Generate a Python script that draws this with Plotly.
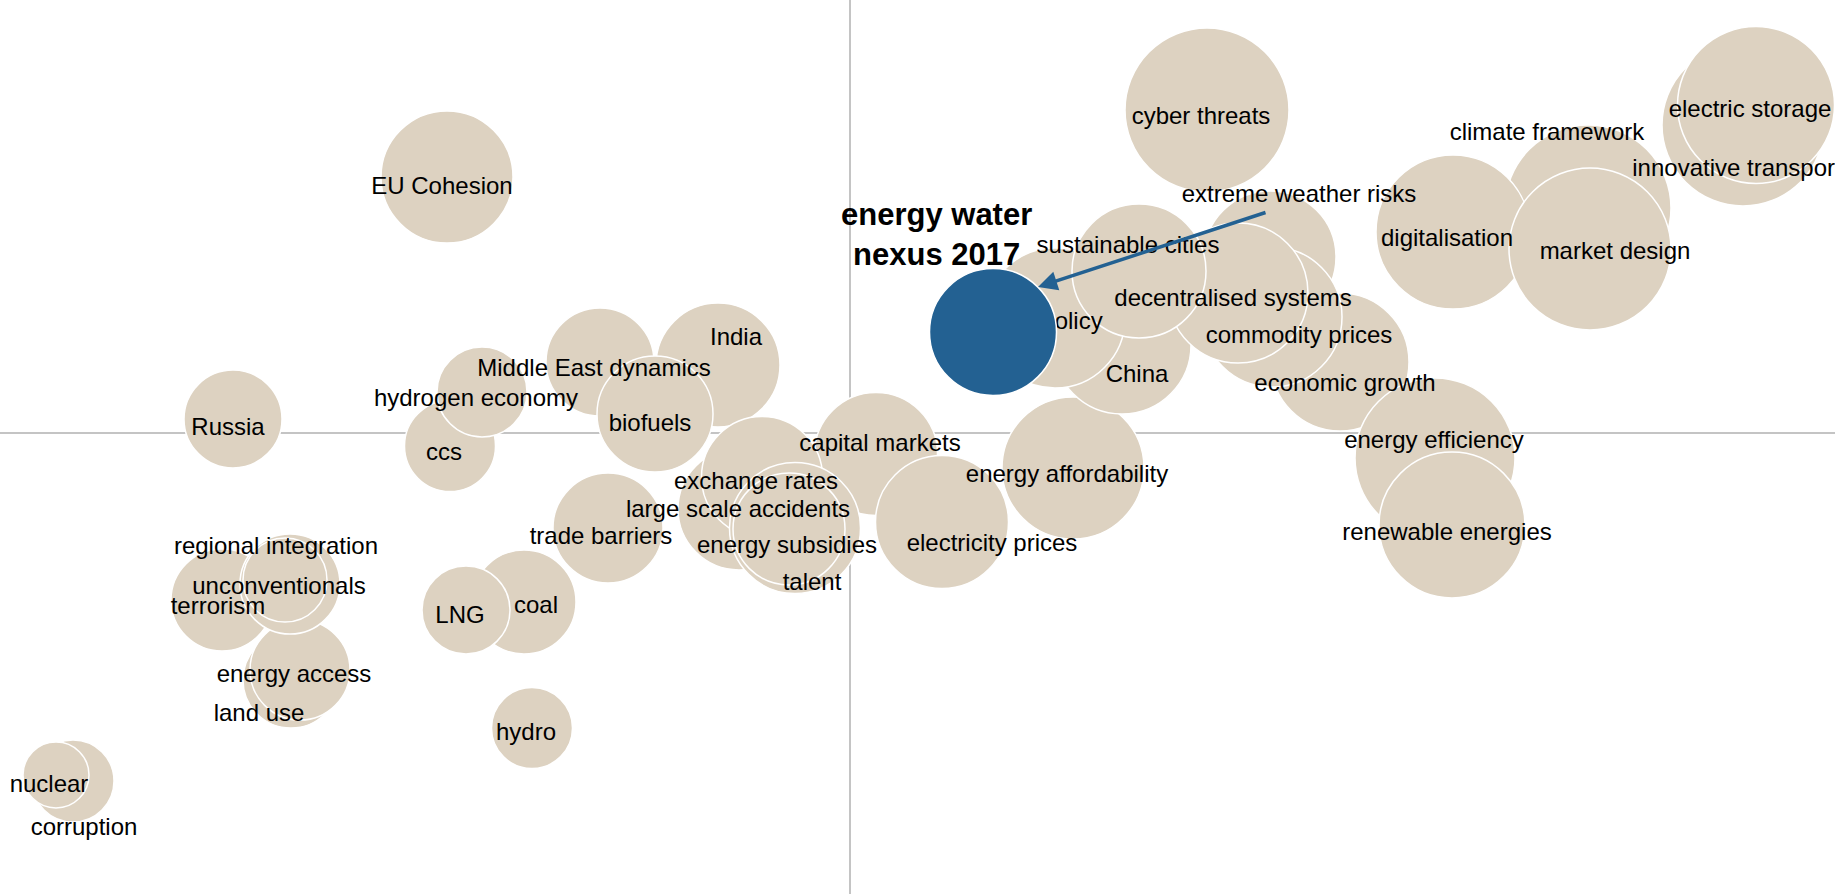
import plotly.graph_objects as go

# issue map: x = impact, y = uncertainty, size = urgency (drawn back to front)
issues = ['corruption', 'nuclear', 'land use', 'energy access', 'terrorism', 'regional integration',
          'unconventionals', 'Russia', 'EU Cohesion', 'ccs', 'hydrogen economy', 'Middle East dynamics',
          'India', 'biofuels', 'trade barriers', 'coal', 'LNG', 'hydro', 'capital markets',
          'large scale accidents', 'exchange rates', 'energy subsidies', 'talent', 'energy affordability',
          'electricity prices', 'China', 'policy', 'extreme weather risks', 'economic growth',
          'commodity prices', 'decentralised systems', 'sustainable cities', 'energy efficiency',
          'renewable energies', 'cyber threats', 'climate framework', 'digitalisation', 'market design',
          'innovative transport', 'electric storage']
impact = [-7.77, -7.94, -5.59, -5.50, -6.28, -5.60,
          -5.65, -6.17, -4.03, -4.00, -3.68, -2.50,
          -1.32, -1.95, -2.42, -3.26, -3.84, -3.18, 0.26,
          -1.11, -0.88, -0.55, -0.61, 2.23,
          0.92, 2.72, 2.05, 4.20, 4.90,
          4.22, 3.88, 2.89, 5.85,
          6.02, 3.57, 7.38, 6.03, 7.40,
          8.93, 9.06]
uncertainty = [-3.48, -3.42, -2.47, -2.37, -1.67, -1.51,
               -1.47, 0.14, 2.56, -0.13, 0.41, 0.71,
               0.68, 0.19, -0.95, -1.69, -1.77, -2.95, -0.21,
               -0.76, -0.44, -0.95, -0.96, -0.35,
               -0.89, 0.88, 1.15, 1.76, 0.71,
               1.16, 1.40, 1.62, -0.25,
               -0.92, 3.23, 2.25, 2.01, 1.84,
               3.08, 3.28]
urgency = [8.2, 6.6, 9.6, 10.0, 10.2, 10.0,
           8.4, 9.8, 13.2, 9.1, 9.0, 10.8,
           12.4, 11.6, 11.0, 10.4, 8.8, 8.1, 12.3,
           12.2, 12.1, 13.1, 11.2, 14.2,
           13.3, 13.8, 14.0, 13.2, 13.8,
           14.0, 14.0, 13.4, 16.0,
           14.6, 16.4, 16.6, 15.4, 16.2,
           16.2, 15.7]
# where each issue's label sits
label_x = [-7.66, -8.01, -5.91, -5.56, -6.32, -5.74,
           -5.71, -6.22, -4.08, -4.06, -3.74, -2.56,
           -1.14, -2.00, -2.49, -3.14, -3.90, -3.24, 0.30,
           -1.12, -0.94, -0.63, -0.38, 2.17,
           1.42, 2.87, 2.22, 4.49, 4.95,
           4.49, 3.83, 2.78, 5.84,
           5.97, 3.51, 6.97, 5.97, 7.65,
           8.87, 9.00]
label_y = [-3.96, -3.53, -2.82, -2.43, -1.75, -1.15,
           -1.55, 0.04, 2.45, -0.21, 0.33, 0.63,
           0.94, 0.08, -1.05, -1.74, -1.84, -3.01, -0.12,
           -0.78, -0.50, -1.14, -1.51, -0.43,
           -1.12, 0.57, 1.10, 2.37, 0.48,
           0.96, 1.33, 1.86, -0.09,
           -1.01, 3.15, 2.99, 1.93, 1.80,
           2.63, 3.22]

focus_name = 'energy water<br>nexus 2017'
focus_x = [1.43]
focus_y = [1.01]
focus_size = [12.7]

beige = '#ddd2c1'
blue = '#236192'
font = 'Liberation Sans, Arial, sans-serif'

fig = go.Figure()

fig.add_trace(go.Scatter(
    x=impact, y=uncertainty, mode='markers',
    marker=dict(size=urgency, sizemode='diameter', sizeref=0.1, color=beige,
                opacity=1, line=dict(color='white', width=1.5)),
    hoverinfo='text', hovertext=issues, showlegend=False,
))
fig.add_trace(go.Scatter(
    x=label_x, y=label_y, mode='text', text=issues, textposition='middle center',
    textfont=dict(family=font, size=24, color='black'),
    hoverinfo='skip', showlegend=False,
))
fig.add_trace(go.Scatter(
    x=focus_x, y=focus_y, mode='markers',
    marker=dict(size=focus_size, sizemode='diameter', sizeref=0.1, color=blue,
                opacity=1, line=dict(color='white', width=1.5)),
    hoverinfo='skip', showlegend=False,
))

# bold label and arrow for the focus issue
fig.add_annotation(x=0.86, y=1.99, text='<b>' + focus_name + '</b>', showarrow=False,
                   font=dict(family=font, size=31, color='black'))
fig.add_annotation(x=1.88, y=1.46, ax=4.17, ay=2.21, axref='x', ayref='y', text='',
                   showarrow=True, arrowhead=2, arrowsize=1.1, arrowwidth=3.5, arrowcolor=blue)

fig.update_xaxes(range=[-8.5, 9.85], showgrid=False, showticklabels=False, ticks='',
                 zeroline=True, zerolinecolor='#c4c4c4', zerolinewidth=1.5, fixedrange=True)
fig.update_yaxes(range=[-4.61, 4.33], showgrid=False, showticklabels=False, ticks='',
                 zeroline=True, zerolinecolor='#c4c4c4', zerolinewidth=2, fixedrange=True)
fig.update_layout(
    width=1835, height=894,
    margin=dict(l=0, r=0, t=0, b=0),
    plot_bgcolor='white', paper_bgcolor='white',
    font=dict(family=font),
)

fig.write_html("out.html", config={'displayModeBar': False},
               post_script="document.body.style.margin='0';")
